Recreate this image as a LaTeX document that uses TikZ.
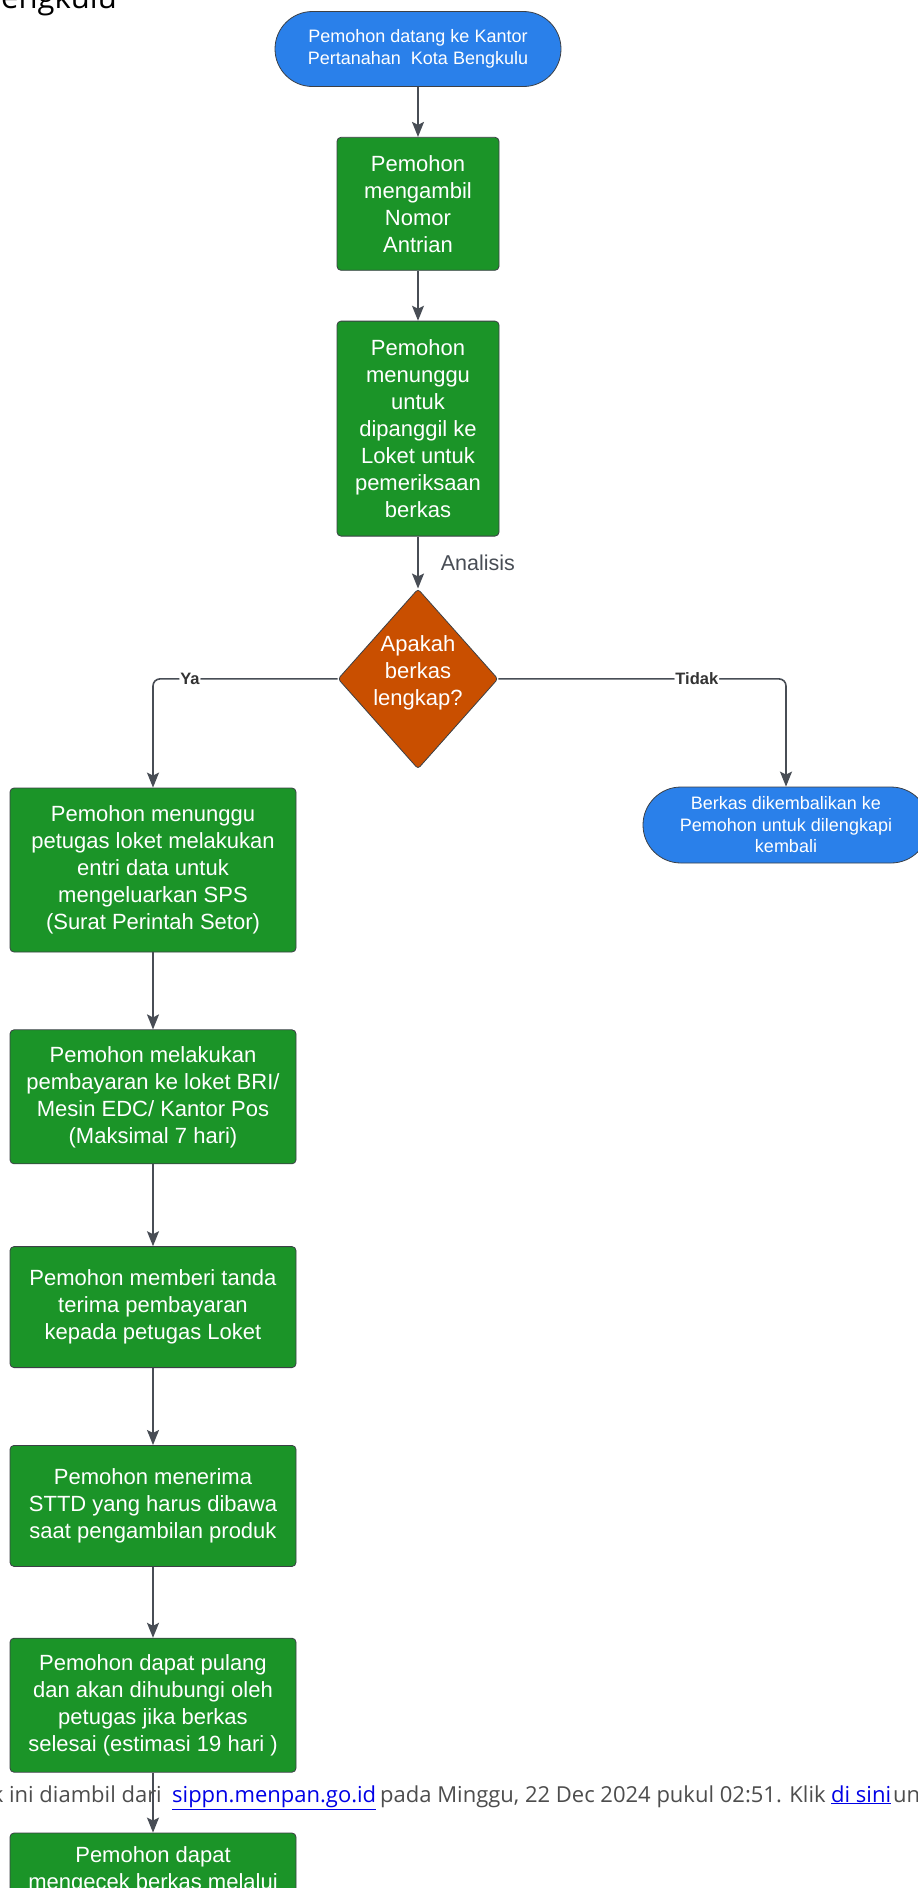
\documentclass[tikz,border=0pt]{standalone}
\usepackage{fontspec}
\setmainfont{Liberation Sans}
\newfontfamily\webfont{Open Sans}
\usetikzlibrary{positioning,shapes.geometric,shapes.misc,arrows.meta}

\definecolor{termblue}{RGB}{42,128,234}
\definecolor{stepgreen}{RGB}{27,148,40}
\definecolor{askorange}{RGB}{201,79,0}
\definecolor{edgegray}{RGB}{72,77,85}
\definecolor{rimgray}{RGB}{60,64,70}
\definecolor{labelgray}{RGB}{51,51,51}
\definecolor{webgray}{RGB}{77,77,77}
\definecolor{linkblue}{RGB}{0,0,230}

\tikzset{
  terminal/.style={rounded rectangle, draw=rimgray, line width=0.8pt, fill=termblue,
    text=white, align=center, inner sep=0pt, minimum width=286pt, minimum height=75pt,
    font=\fontsize{18}{21.5}\selectfont},
  stepbox/.style={rectangle, rounded corners=4pt, draw=rimgray, line width=0.8pt,
    fill=stepgreen, text=white, align=center, inner sep=0pt,
    font=\fontsize{22}{27}\selectfont},
  wide/.style={stepbox, minimum width=286pt},
  decision/.style={diamond, rounded corners=3pt, draw=rimgray, line width=0.8pt,
    fill=askorange, text=white, align=center, inner sep=-14pt,
    minimum width=160pt, minimum height=180pt, font=\fontsize{22}{27}\selectfont},
  flow/.style={draw=edgegray, line width=1.6pt,
    -{Stealth[length=15pt,width=12pt,inset=3pt]}},
  branch/.style={flow, rounded corners=7pt},
  answer/.style={fill=white, text=labelgray, inner sep=1pt,
    font=\bfseries\fontsize{16.5}{19}\selectfont},
  note/.style={text=edgegray, inner sep=0pt, font=\fontsize{21.5}{25}\selectfont},
  webtext/.style={text=webgray, inner sep=0pt, font=\webfont\fontsize{22}{26}\selectfont},
  weblink/.style={webtext, text=linkblue}
}

\begin{document}
\begin{tikzpicture}[x=1pt, y=-1pt]
  \fill[white, use as bounding box] (0,0) rectangle (918,1888);
  \clip (0,0) rectangle (918,1888);

  \node[webtext, text=black, font=\webfont\fontsize{31}{36}\selectfont,
        anchor=base east] (kota) at (117,8) {engkulu};

  \node[terminal] (datang) at (418,49) {Pemohon datang ke Kantor\\Pertanahan\ \ Kota Bengkulu};
  \node[stepbox, below=50pt of datang, minimum width=162pt, minimum height=133pt] (ambil)
    {Pemohon\\mengambil\\Nomor\\Antrian};
  \node[stepbox, below=50pt of ambil, minimum width=162pt, minimum height=215pt] (tunggu)
    {Pemohon\\menunggu\\untuk\\dipanggil ke\\Loket untuk\\pemeriksaan\\berkas};
  \node[decision, below=52pt of tunggu] (cek) {Apakah\\berkas\\lengkap?\rule[-17pt]{0pt}{17pt}};

  \node[wide, minimum height=164pt] (entri) at (153,870)
    {Pemohon menunggu\\petugas loket melakukan\\entri data untuk\\mengeluarkan SPS\\(Surat Perintah Setor)};
  \node[terminal, minimum height=76pt] (kembali) at (786,825)
    {Berkas dikembalikan ke\\Pemohon untuk dilengkapi\\kembali};
  \node[wide, below=77pt of entri, minimum height=134pt] (bayar)
    {Pemohon melakukan\\pembayaran ke loket BRI/\\Mesin EDC/ Kantor Pos\\(Maksimal 7 hari)};
  \node[wide, below=82pt of bayar, minimum height=121pt] (tanda)
    {Pemohon memberi tanda\\terima pembayaran\\kepada petugas Loket};
  \node[wide, below=77pt of tanda, minimum height=121pt] (sttd)
    {Pemohon menerima\\STTD yang harus dibawa\\saat pengambilan produk};
  \node[wide, below=71pt of sttd, minimum height=134pt] (pulang)
    {Pemohon dapat pulang\\dan akan dihubungi oleh\\petugas jika berkas\\selesai (estimasi 19 hari )};
  \node[wide, below=60pt of pulang, minimum height=134pt] (online) {};
  \node[text=white, align=center, inner sep=0pt, font=\fontsize{22}{27}\selectfont,
        below=14pt of online.north] (onlinetext) {Pemohon dapat\\mengecek berkas melalui};

  \draw[flow] (datang) -- (ambil);
  \draw[flow] (ambil) -- (tunggu);
  \draw[flow] (tunggu) -- node[note, right=22pt] (analisis) {Analisis} (cek);
  \draw[branch] (cek.west) -| node[answer, pos=0.4] (ya) {Ya} (entri.north);
  \draw[branch] (cek.east) -| node[answer, pos=0.345] (tidak) {Tidak} (kembali.north);
  \draw[flow] (entri) -- (bayar);
  \draw[flow] (bayar) -- (tanda);
  \draw[flow] (tanda) -- (sttd);
  \draw[flow] (sttd) -- (pulang);
  \draw[flow] (pulang) -- (online);

  \node[webtext, anchor=base east] (srcA) at (162,1802) {k ini diambil dari};
  \node[weblink, anchor=base west] (srcB) at (172,1802) {\underline{sippn.menpan.go.id}};
  \node[webtext, anchor=base west] (srcC) at (380,1802) {pada Minggu, 22 Dec 2024 pukul 02:51. Klik};
  \node[weblink, anchor=base west] (srcD) at (831,1802) {\underline{di sini}};
  \node[webtext, anchor=base west] (srcE) at (893,1802) {un};
\end{tikzpicture}
\end{document}
